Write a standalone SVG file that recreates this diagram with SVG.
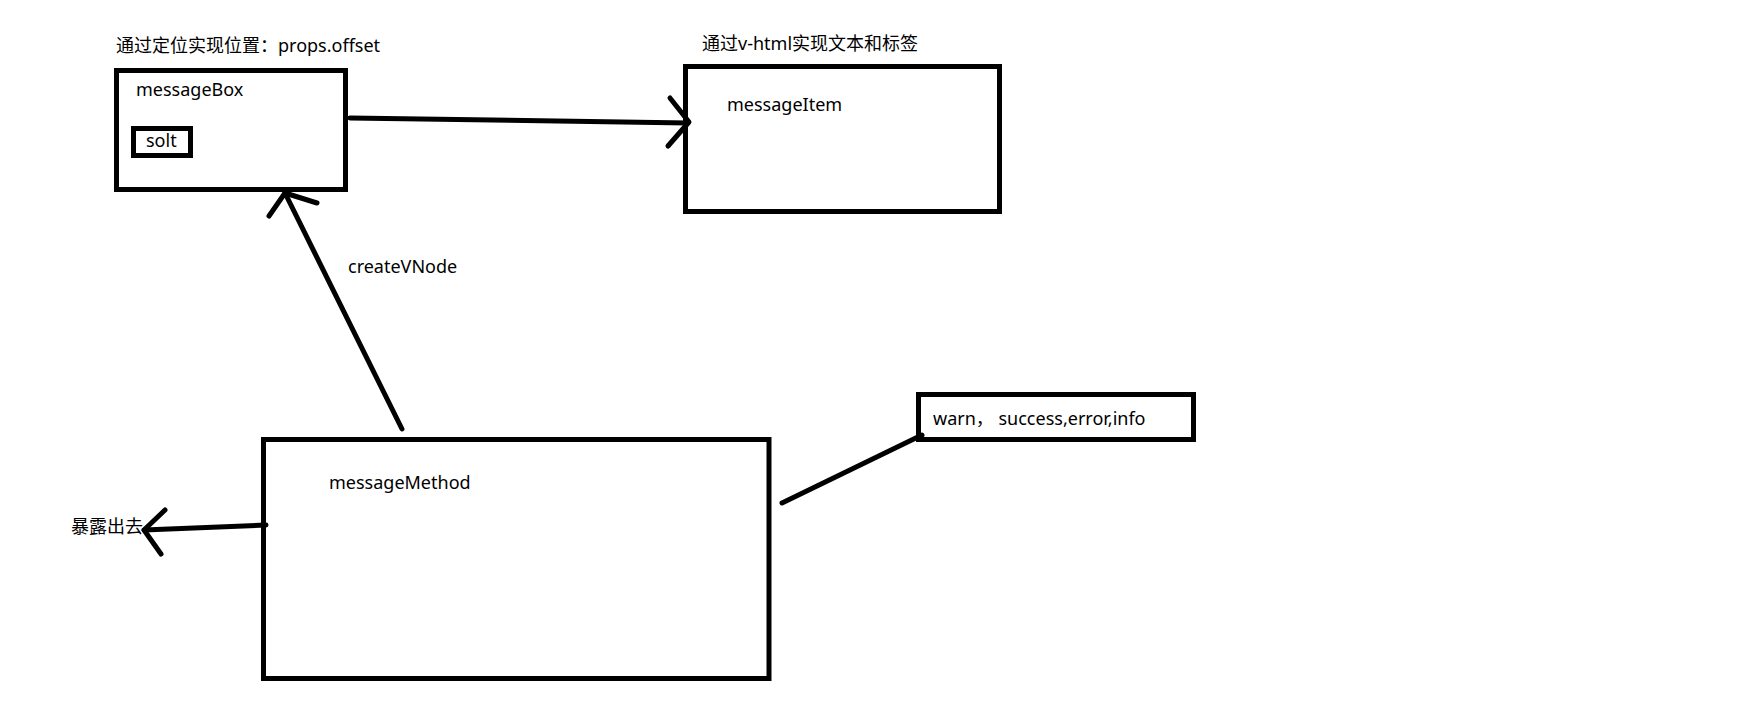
<svg xmlns="http://www.w3.org/2000/svg" width="1753" height="713" viewBox="0 0 1753 713">
<style>
.box{fill:none;stroke:#000;stroke-width:5}
.ln{fill:none;stroke:#000;stroke-width:5;stroke-linecap:round;stroke-linejoin:round}
text{font-family:"Noto Sans","Noto Sans CJK SC",sans-serif;font-size:18px;fill:#000}
</style>
<rect width="1753" height="713" fill="#fff"/>
<g id="messageBox">
<rect class="box" x="116.5" y="70.5" width="229" height="119"/>
<text x="136" y="96">messageBox</text>
<text x="116" y="52">通过定位实现位置：props.offset</text>
</g>
<g id="solt">
<rect class="box" x="133.5" y="128.5" width="57" height="27"/>
<text x="146" y="147">solt</text>
</g>
<g id="messageItem">
<rect class="box" x="685.5" y="66.5" width="314" height="145"/>
<text x="727" y="111">messageItem</text>
<text x="702" y="50">通过v-html实现文本和标签</text>
</g>
<g id="messageMethod">
<rect class="box" x="263.5" y="439.5" width="505.5" height="239"/>
<text x="329" y="489">messageMethod</text>
</g>
<g id="types">
<rect class="box" x="918.5" y="394.5" width="275" height="45"/>
<text x="933" y="425">warn，  success,error,info</text>
</g>
<g id="exposeLabel">
<text x="71" y="533">暴露出去</text>
</g>
<g id="connectors">
<path class="ln" d="M350 118 L688 123"/>
<path class="ln" d="M670 98 L689 122 L668 146"/>
<path class="ln" d="M402 429 L285 193"/>
<path class="ln" d="M269 216 L285 193 L317 203"/>
<text x="348" y="273">createVNode</text>
<path class="ln" d="M266 525 L144 530"/>
<path class="ln" d="M165 510 L144 530 L161 554"/>
<path class="ln" d="M782 503 L922 435"/>
</g>
</svg>
